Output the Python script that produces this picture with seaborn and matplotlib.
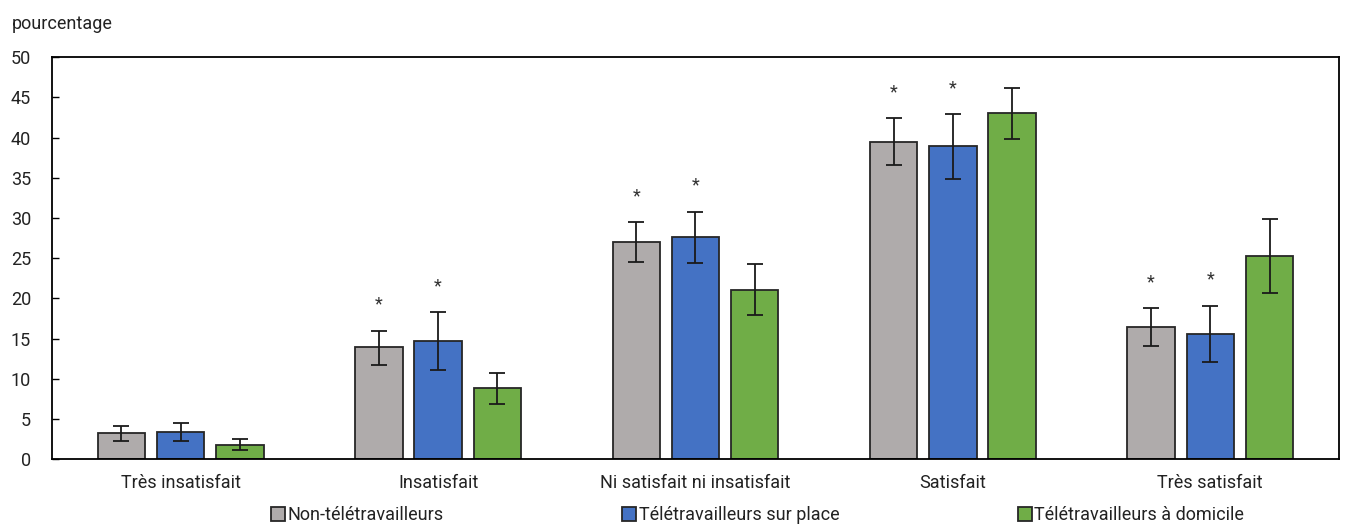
import matplotlib
matplotlib.use("Agg")
import matplotlib.pyplot as plt
import seaborn as sns
import pandas as pd

categories = ["Très insatisfait", "Insatisfait", "Ni satisfait ni insatisfait", "Satisfait", "Très satisfait"]
groups = ["Non-télétravailleurs", "Télétravailleurs sur place", "Télétravailleurs à domicile"]

non_tele = [3.2, 14.0, 27.0, 39.5, 16.4]
non_tele_lo = [2.2, 11.7, 24.5, 36.6, 14.1]
non_tele_hi = [4.1, 16.0, 29.5, 42.4, 18.8]

sur_place = [3.4, 14.7, 27.6, 38.9, 15.6]
sur_place_lo = [2.3, 11.1, 24.4, 34.8, 12.1]
sur_place_hi = [4.5, 18.3, 30.8, 42.9, 19.1]

domicile = [1.8, 8.8, 21.1, 43.0, 25.3]
domicile_lo = [1.2, 6.9, 17.9, 39.8, 20.7]
domicile_hi = [2.5, 10.7, 24.3, 46.2, 29.9]

# * = significantly different from home teleworkers
stars_non_tele = [False, True, True, True, True]
stars_sur_place = [False, True, True, True, True]
stars_domicile = [False, False, False, False, False]

colors = ["#AFABAB", "#4472C4", "#70AD47"]

rows = []
for g, vals, lo, hi, st in [
    (groups[0], non_tele, non_tele_lo, non_tele_hi, stars_non_tele),
    (groups[1], sur_place, sur_place_lo, sur_place_hi, stars_sur_place),
    (groups[2], domicile, domicile_lo, domicile_hi, stars_domicile),
]:
    for c, v, l, h, s in zip(categories, vals, lo, hi, st):
        rows.append({"cat": c, "grp": g, "val": v, "lo": l, "hi": h, "star": s})
df = pd.DataFrame(rows)

sns.set_theme(style="white")
plt.rcParams["font.family"] = ["Roboto", "DejaVu Sans"]

fig = plt.figure(figsize=(13.46, 5.29), dpi=100)
ax = fig.add_axes([0.0386, 0.132, 0.9562, 0.760])

sns.barplot(data=df, x="cat", y="val", hue="grp", order=categories, hue_order=groups,
            palette=colors, saturation=1, width=0.69, gap=0.2, edgecolor="#262626",
            linewidth=1.3, errorbar=None, ax=ax)

# error bars and stars placed on the bars seaborn drew
for grp, container in zip(groups, ax.containers):
    sub = df[df["grp"] == grp].set_index("cat").loc[categories]
    for bar, (_, r) in zip(container, sub.iterrows()):
        xc = bar.get_x() + bar.get_width() / 2
        ax.errorbar(xc, r["val"], yerr=[[r["val"] - r["lo"]], [r["hi"] - r["val"]]],
                    fmt="none", ecolor="#1a1a1a", elinewidth=1.3, capsize=6, capthick=1.3)
        if r["star"]:
            ax.text(xc, r["hi"] + 2.1, "*", ha="center", va="bottom", fontsize=13, color="#333333")

ax.set_ylim(0, 50)
ax.set_yticks(range(0, 51, 5))
ax.set_xlim(-0.5, 4.5)
ax.set_xlabel("")
ax.set_ylabel("")
ax.tick_params(axis="y", left=True, direction="in", length=5, width=1, labelsize=13,
               color="black", labelcolor="#222222", pad=15)
ax.tick_params(axis="x", bottom=False, labelsize=13, labelcolor="#222222", pad=5)
for sp in ax.spines.values():
    sp.set_color("black")
    sp.set_linewidth(1.3)

fig.text(0.009, 0.946, "pourcentage", fontsize=13, color="#222222")

handles, labels = ax.get_legend_handles_labels()
ax.get_legend().remove()
fig.legend(handles, labels, loc="lower center", bbox_to_anchor=(0.563, -0.022), ncol=3, frameon=False,
           fontsize=13, handlelength=0.75, handleheight=0.75, handletextpad=0.15,
           columnspacing=9.9, labelcolor="#222222")

fig.savefig("out.png", dpi=100)
